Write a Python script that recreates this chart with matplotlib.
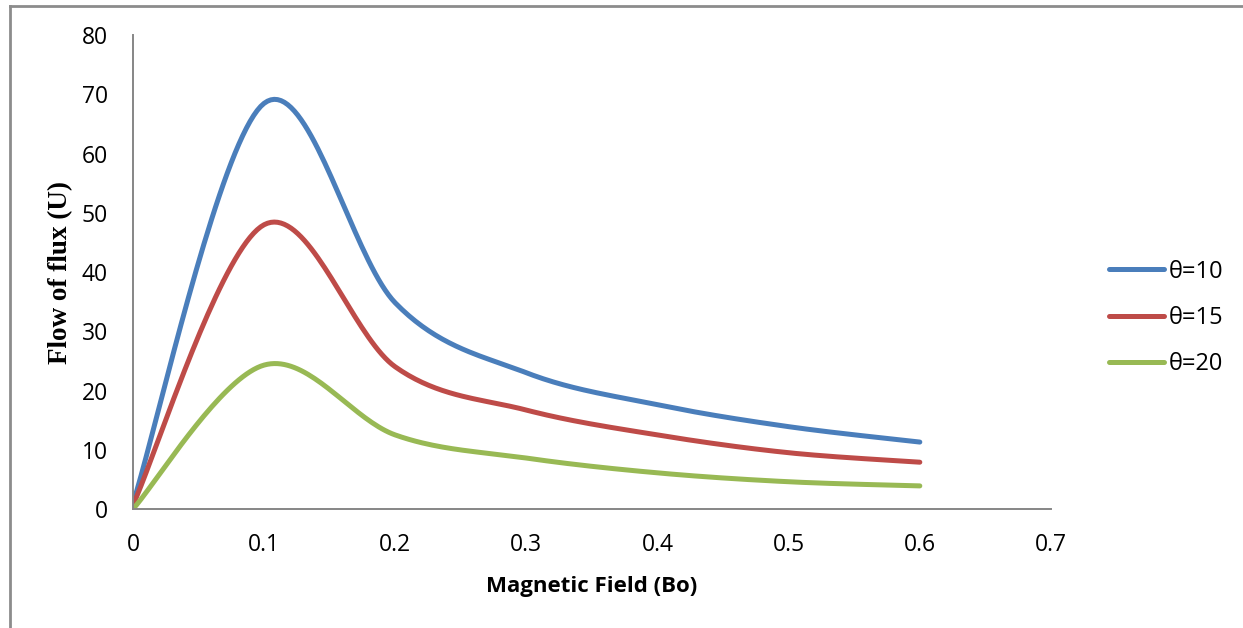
import matplotlib
matplotlib.use("Agg")
import matplotlib.pyplot as plt
from matplotlib.lines import Line2D
import numpy as np

# values (points joined by an Excel-style smooth line)
bo = [0, 0.1, 0.2, 0.3, 0.4, 0.5, 0.6]
flux_10 = [1.0, 68.5, 34.8, 23.0, 17.6, 13.9, 11.3]
flux_15 = [0.7, 48.0, 24.0, 16.7, 12.5, 9.5, 7.9]
flux_20 = [0.0, 24.3, 12.5, 8.6, 6.1, 4.6, 3.9]
labels = ["θ=10", "θ=15", "θ=20"]
colors = ["#4A7EBB", "#BE4B48", "#98B954"]


def smooth(x, y, n=40):
	"""Catmull-Rom style bezier through the points, like Excel's smoothed line."""
	p = np.column_stack([x, y]).astype(float)
	ext = np.vstack([p[0], p, p[-1]])
	out = []
	t = np.linspace(0, 1, n)[:, None]
	for i in range(len(p) - 1):
		p0, p1, p2, p3 = ext[i], ext[i + 1], ext[i + 2], ext[i + 3]
		c1 = p1 + (p2 - p0) / 6.0
		c2 = p2 - (p3 - p1) / 6.0
		seg = ((1 - t) ** 3) * p1 + 3 * ((1 - t) ** 2) * t * c1 + 3 * (1 - t) * t ** 2 * c2 + t ** 3 * p2
		out.append(seg if i == 0 else seg[1:])
	out = np.vstack(out)
	return out[:, 0], out[:, 1]


fig = plt.figure(figsize=(12.43, 6.28), dpi=100)
ax = fig.add_axes([0.107, 0.1895, 0.7385, 0.7545])

for ys, lab, col in zip([flux_10, flux_15, flux_20], labels, colors):
	sx, sy = smooth(bo, ys)
	ax.plot(sx, sy, color=col, lw=3.6, label=lab, solid_capstyle="round")

ax.set_xlim(0, 0.7)
ax.set_ylim(0, 80)
ax.set_xticks(np.arange(0, 0.71, 0.1))
ax.set_xticklabels(["0", "0.1", "0.2", "0.3", "0.4", "0.5", "0.6", "0.7"])
ax.set_yticks(np.arange(0, 81, 10))

for s in ["top", "right"]:
	ax.spines[s].set_visible(False)
for s in ["left", "bottom"]:
	ax.spines[s].set_color("#868686")
	ax.spines[s].set_linewidth(1.4)

ax.tick_params(length=0, labelsize=16.5, pad=17)
ax.tick_params(axis="y", pad=18)
for t in ax.get_xticklabels() + ax.get_yticklabels():
	t.set_fontfamily("Open Sans")

ax.set_xlabel("Magnetic Field (Bo)", fontsize=16, fontweight="bold", fontfamily="Open Sans", labelpad=14)
ax.set_ylabel("Flow of flux (U)", fontsize=19.5, fontweight="bold", fontfamily="Liberation Serif", labelpad=6.5)

leg = ax.legend(loc="center left", bbox_to_anchor=(1.040, 0.403), frameon=False,
	prop={"family": "Open Sans", "size": 17}, handlelength=2.35, handletextpad=0.17, labelspacing=0.95)

# outer chart frame (only left and top edges show in the reference)
fig.add_artist(Line2D([10 / 1243, 10 / 1243], [0, 1 - 6 / 628], color="#8c8c8c", lw=2))
fig.add_artist(Line2D([10 / 1243, 1], [1 - 6 / 628, 1 - 6 / 628], color="#8c8c8c", lw=2))

fig.savefig("out.png", dpi=100)
